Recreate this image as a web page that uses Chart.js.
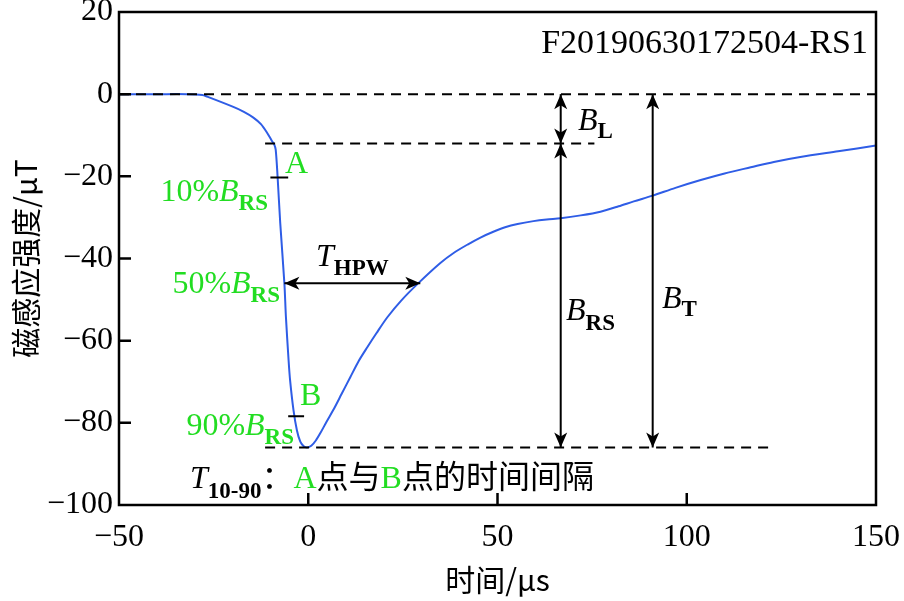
<!DOCTYPE html>
<html>
<head>
<meta charset="utf-8">
<script src="https://cdn.jsdelivr.net/npm/chart.js@4/dist/chart.umd.min.js"></script>
<style>
html,body{margin:0;padding:0;background:#fff}
#wrap{width:904px;height:601px}
</style>
</head>
<body>
<div id="wrap"><canvas id="c" width="904" height="601"></canvas></div>
<script>
const timeUs = [-50, -40, -32, -28, -26.7, -19.8, -17, -14.5, -12.5, -10.8, -9.6, -9.0,
  -8.6, -8.1, -7.4, -6.3, -5.9, -5.2, -4.8, -3.9, -3.0, -2.1, -1.2, -0.3, 0.8, 2, 3.2, 4.8,
  6.6, 8.8, 11.1, 13.3, 15.6, 18, 20.9, 24.5, 29.1, 34.9, 38.5, 42.1, 45.5, 48.9, 52, 55.3,
  59.5, 63, 66.7, 72, 77.2, 82, 86, 91, 97, 103.7, 110, 116.9, 123, 130, 140, 150];
const fieldUT = [0, 0, 0, -0.2, -0.6, -3.1, -4.3, -5.7, -7.3, -9.5, -11.4, -12.2,
  -13.5, -20.1, -31.4, -46.1, -54.2, -64.7, -69.6, -76.9, -81.8, -84.6, -85.7, -86.0, -85.6, -84.3, -82.5, -79.8,
  -76.9, -73, -68.9, -65, -61.6, -58.2, -54.3, -50.3, -46.0, -41.1, -38.6, -36.6, -34.9, -33.5, -32.4, -31.6,
  -30.9, -30.5, -30.2, -29.5, -28.6, -27.3, -26.1, -24.7, -22.8, -20.9, -19.3, -17.8, -16.5, -15.3, -13.9, -12.5];

const xTicks = [-50, 0, 50, 100, 150];
const yTicks = [-100, -80, -60, -40, -20, 0, 20];
const xTitle = '时间/μs';
const yTitle = '磁感应强度/μT';
const tagText = 'F20190630172504-RS1';

// guide levels (μT) and guide times (μs)
const levelZero = 0, levelL = -12, levelMin = -86;
const level10 = -20.3, level90 = -78.4, levelHalf = -46;
const tHalfStart = -6.3, tHalfEnd = 29.6;
const tBL = 66.7, tBT = 91;

const serif = '"Liberation Serif","Times New Roman",serif';
const cjk = '"Noto Sans CJK SC","Noto Sans CJK JP",sans-serif';
const green = '#22dd22';

function q(id){return document.getElementById(id)}

function arrowHead(ctx, x, y, ang){
  const L = 15, W = 6.5;
  ctx.save();
  ctx.translate(x, y); ctx.rotate(ang);
  ctx.beginPath();
  ctx.moveTo(0, 0);
  ctx.lineTo(-L, -W);
  ctx.lineTo(-L + 4, 0);
  ctx.lineTo(-L, W);
  ctx.closePath();
  ctx.fill();
  ctx.restore();
}

function arrow(ctx, x1, y1, x2, y2){
  ctx.beginPath(); ctx.moveTo(x1, y1); ctx.lineTo(x2, y2); ctx.stroke();
  const a = Math.atan2(y2 - y1, x2 - x1);
  arrowHead(ctx, x2, y2, a);
  arrowHead(ctx, x1, y1, a + Math.PI);
}

// parts: [text, font, color, dy]
function rich(ctx, parts, x, y, align){
  let w = 0;
  parts.forEach(p => { ctx.font = p[1]; w += ctx.measureText(p[0]).width; });
  let cx = align === 'right' ? x - w : x;
  ctx.textAlign = 'left'; ctx.textBaseline = 'alphabetic';
  parts.forEach(p => {
    ctx.font = p[1]; ctx.fillStyle = p[2];
    ctx.fillText(p[0], cx, y + (p[3] || 0));
    cx += ctx.measureText(p[0]).width;
  });
}

const guides = {
  id: 'guides',
  afterDatasetsDraw(chart){
    const {ctx, chartArea: ca, scales: {x, y}} = chart;
    const X = v => x.getPixelForValue(v), Y = v => y.getPixelForValue(v);
    ctx.save();
    ctx.strokeStyle = '#000'; ctx.fillStyle = '#000';

    // dashed reference levels
    ctx.lineWidth = 2; ctx.setLineDash([10, 7]);
    [[levelZero, -50, 150], [levelL, -11.4, 75.6], [levelMin, -11.4, 122]].forEach(d => {
      ctx.beginPath(); ctx.moveTo(X(d[1]), Y(d[0])); ctx.lineTo(X(d[2]), Y(d[0])); ctx.stroke();
    });
    ctx.setLineDash([]);

    // 10% / 90% markers
    ctx.beginPath();
    ctx.moveTo(X(-10), Y(level10)); ctx.lineTo(X(-5.3), Y(level10));
    ctx.moveTo(X(-5.3), Y(level90)); ctx.lineTo(X(-1.1), Y(level90));
    ctx.stroke();

    // arrows
    ctx.lineWidth = 2;
    arrow(ctx, X(tHalfStart), Y(levelHalf), X(tHalfEnd), Y(levelHalf));
    arrow(ctx, X(tBL), Y(levelZero), X(tBL), Y(levelL));
    arrow(ctx, X(tBL), Y(levelL), X(tBL), Y(levelMin));
    arrow(ctx, X(tBT), Y(levelZero), X(tBT), Y(levelMin));

    // frame and inward ticks
    ctx.lineWidth = 2.5;
    ctx.strokeRect(ca.left, ca.top, ca.right - ca.left, ca.bottom - ca.top);
    ctx.beginPath();
    xTicks.slice(1, -1).forEach(v => { ctx.moveTo(X(v), ca.bottom); ctx.lineTo(X(v), ca.bottom - 12); });
    yTicks.slice(1, -1).forEach(v => { ctx.moveTo(ca.left, Y(v)); ctx.lineTo(ca.left + 12, Y(v)); });
    ctx.stroke();

    // texts
    const big = '32px ' + serif, it = 'italic 32px ' + serif, sub = 'bold 23px ' + serif;
    ctx.font = '34px ' + serif; ctx.fillStyle = '#000'; ctx.textAlign = 'right';
    ctx.fillText(tagText, ca.right - 8, 53);
    rich(ctx, [['A', big, green]], 285, 173);
    rich(ctx, [['B', big, green]], 300, 405);
    rich(ctx, [['10%', big, green], ['B', it, green], ['RS', sub, green, 9]], 268, 201, 'right');
    rich(ctx, [['50%', big, green], ['B', it, green], ['RS', sub, green, 9]], 280, 293, 'right');
    rich(ctx, [['90%', big, green], ['B', it, green], ['RS', sub, green, 9]], 294, 435, 'right');
    rich(ctx, [['T', it, '#000'], ['HPW', sub, '#000', 9]], 316, 266);
    rich(ctx, [['B', it, '#000'], ['L', sub, '#000', 8]], 578, 130);
    rich(ctx, [['B', it, '#000'], ['RS', sub, '#000', 10]], 566, 320);
    rich(ctx, [['B', it, '#000'], ['T', sub, '#000', 8]], 662, 308);
    rich(ctx, [['T', it, '#000'], ['10-90', sub, '#000', 10], ['：', '32px ' + cjk, '#000'],
      ['A', big, green], ['点与', '32px ' + cjk, '#000'], ['B', big, green],
      ['点的时间间隔', '32px ' + cjk, '#000']], 190, 488);
    ctx.restore();
  }
};

const minus = v => v < 0 ? '\u2212' + Math.abs(v) : String(v);

new Chart(q('c'), {
  type: 'line',
  data: {
    datasets: [{
      data: timeUs.map((t, i) => ({x: t, y: fieldUT[i]})),
      borderColor: '#2f5de6',
      borderWidth: 2,
      pointRadius: 0,
      tension: 0.3,
      fill: false
    }]
  },
  options: {
    responsive: false,
    animation: false,
    devicePixelRatio: 1,
    layout: {padding: {top: 12, right: 28, left: 0, bottom: 0}},
    plugins: {legend: {display: false}, tooltip: {enabled: false}},
    scales: {
      x: {
        type: 'linear', min: -50, max: 150,
        afterBuildTicks: s => { s.ticks = xTicks.map(v => ({value: v})); },
        afterFit: s => { s.height = 96; s.paddingLeft = 0; s.paddingRight = 0; },
        grid: {display: false, drawTicks: false},
        border: {display: false},
        ticks: {font: {family: serif, size: 32}, color: '#000', padding: 13, maxRotation: 0, callback: minus},
        title: {display: true, text: xTitle, font: {family: cjk, size: 30}, color: '#000', padding: {top: 0, bottom: 3}}
      },
      y: {
        type: 'linear', min: -100, max: 20,
        afterBuildTicks: s => { s.ticks = yTicks.map(v => ({value: v})); },
        afterFit: s => { s.width = 119; s.paddingTop = 0; s.paddingBottom = 0; },
        grid: {display: false, drawTicks: false},
        border: {display: false},
        ticks: {font: {family: serif, size: 32}, color: '#000', padding: 6, callback: minus},
        title: {display: true, text: yTitle, font: {family: cjk, size: 30}, color: '#000', padding: {top: 8, bottom: 0}}
      }
    }
  },
  plugins: [guides]
});
</script>
</body>
</html>
